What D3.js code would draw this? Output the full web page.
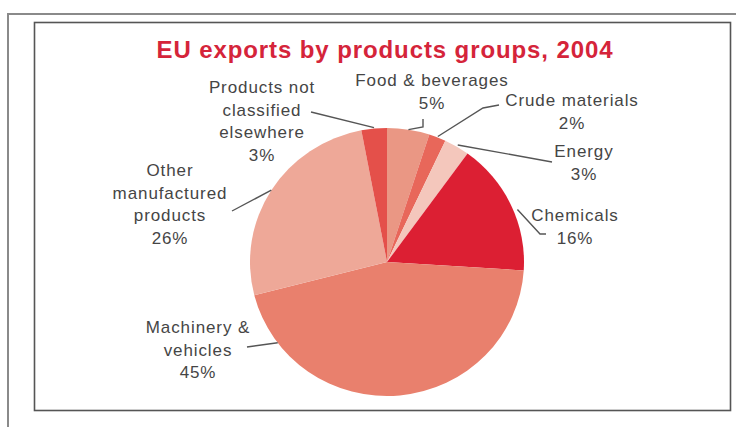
<!DOCTYPE html>
<html>
<head>
<meta charset="utf-8">
<script src="https://cdn.jsdelivr.net/npm/d3@7"></script>
<style>
  html, body { margin: 0; padding: 0; background: #fff; }
  svg { display: block; }
</style>
</head>
<body>
<div id="chart"></div>
<script>
// ---- data ----
const title = "EU exports by products groups, 2004";
const categories = ["Food & beverages", "Crude materials", "Energy", "Chemicals",
  "Machinery & vehicles", "Other manufactured products", "Products not classified elsewhere"];
const values = [5, 2, 3, 16, 45, 26, 3];
const labelLines = [["Food & beverages"], ["Crude materials"], ["Energy"], ["Chemicals"],
  ["Machinery &", "vehicles"], ["Other", "manufactured", "products"], ["Products not", "classified", "elsewhere"]];

// ---- styles / layout ----
const colors = ["#ea9784", "#e8675a", "#f4c7bc", "#dc1f33", "#e9806d", "#eea898", "#e4504a"];
const labelPos = [[432, 80], [572, 100], [584, 151], [575, 215], [198, 327], [170, 170], [262, 87]];
const lineH = 22.5;
const anchorFrac = [0.5, 0.5, 0.5, 0.55, 0.86, 0.5, 0.5];
const anchorPad = [0, 1, 2, 4, 0, 0, 1];
const leaderTail = [[[423, 127], [423, 119]], [[483, 108], [499, 105]], [[552, 162]],
  [[540, 234], [546, 234]], [[247, 347]], [[232, 211]], [[311, 112]]];

const W = 736, H = 427;
const cx = 387, cy = 262, rx = 137, ry = 134;

const svg = d3.select("#chart").append("svg").attr("width", W).attr("height", H);

// outer frame lines
svg.append("path").attr("d", `M8,427 L8,14 L736,14`).attr("fill", "none")
  .attr("stroke", "#8a8a8a").attr("stroke-width", 2);
// inner box
svg.append("rect").attr("x", 34.5).attr("y", 22.5).attr("width", 696).attr("height", 388)
  .attr("fill", "#fff").attr("stroke", "#555").attr("stroke-width", 1.6);

// title
svg.append("text").attr("x", 385).attr("y", 58).attr("text-anchor", "middle")
  .attr("font-family", "Liberation Sans, Arial, sans-serif").attr("font-weight", "bold")
  .attr("font-size", 24).attr("letter-spacing", 0.9).attr("fill", "#d5243a").text(title);

// pie
const pie = d3.pie().sort(null).value(d => d).startAngle(0).endAngle(2 * Math.PI);
const arcs = pie(values);
const arc = d3.arc().innerRadius(0).outerRadius(ry);
const g = svg.append("g").attr("transform", `translate(${cx},${cy}) scale(${rx / ry},1)`);
g.selectAll("path").data(arcs).join("path")
  .attr("d", arc).attr("fill", (d, i) => colors[i]);

// leader lines
arcs.forEach((a, i) => {
  const t = a.startAngle + anchorFrac[i] * (a.endAngle - a.startAngle);
  const p0 = [cx + (rx + anchorPad[i]) * Math.sin(t), cy - (ry + anchorPad[i]) * Math.cos(t)];
  const pts = [p0].concat(leaderTail[i]);
  svg.append("path").attr("d", d3.line()(pts)).attr("fill", "none")
    .attr("stroke", "#555").attr("stroke-width", 1.4);
});

// labels
const lbl = svg.append("g").attr("font-family", "Liberation Sans, Arial, sans-serif")
  .attr("font-size", 17).attr("letter-spacing", 0.9).attr("fill", "#454545").attr("text-anchor", "middle");
labelLines.forEach((lines, i) => {
  const all = lines.concat([values[i] + "%"]);
  const t = lbl.append("text").attr("x", labelPos[i][0]).attr("y", labelPos[i][1] + 6);
  all.forEach((s, j) => {
    t.append("tspan").attr("x", labelPos[i][0]).attr("y", labelPos[i][1] + 6 + j * lineH).text(s);
  });
});
</script>
</body>
</html>
